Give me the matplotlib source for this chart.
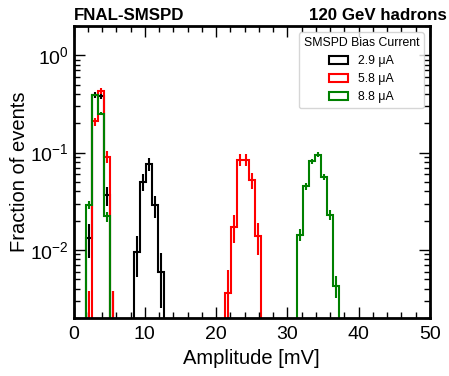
import matplotlib
matplotlib.use("Agg")
import matplotlib.pyplot as plt
from matplotlib.patches import Patch
import numpy as np

plt.rcParams['font.family'] = ['Liberation Sans', 'DejaVu Sans']
plt.rcParams['mathtext.fontset'] = 'custom'
plt.rcParams['mathtext.rm'] = 'Liberation Sans'
plt.rcParams['mathtext.it'] = 'Liberation Sans:italic'
plt.rcParams['mathtext.bf'] = 'Liberation Sans:bold'

# 59 bins between 0 and 50 mV
edges = np.linspace(0, 50, 60)

# non-empty bins (index) and fraction of events
black_bins = [2, 3, 4, 5, 6, 10, 11, 12, 13, 14]
black_frac = [0.0133, 0.395, 0.385, 0.0364, 0.0019, 0.0096, 0.050, 0.0767, 0.0288, 0.0059]
black_n = 526

red_bins = [2, 3, 4, 5, 6, 25, 26, 27, 28, 29, 30]
red_frac = [0.0019, 0.209, 0.432, 0.0904, 0.0019, 0.0036, 0.0174, 0.0848, 0.0848, 0.0522, 0.014]
red_n = 530

green_bins = [2, 3, 4, 5, 37, 38, 39, 40, 41, 42, 43]
green_frac = [0.029, 0.391, 0.250, 0.0221, 0.0143, 0.0453, 0.0815, 0.0955, 0.056, 0.0229, 0.0043]
green_n = 3500

labels = ['2.9 μA', '5.8 μA', '8.8 μA']
colors = ['black', 'red', 'green']

fig = plt.figure(figsize=(4.49, 3.76), dpi=100)
ax = fig.add_axes([73.5 / 449, 1 - 318 / 376, (430 - 73.5) / 449, (318 - 26) / 376])

centers = 0.5 * (edges[1:] + edges[:-1])
series = [(black_bins, black_frac, black_n), (red_bins, red_frac, red_n), (green_bins, green_frac, green_n)]
for (bins, frac, n), col in zip(series, colors):
    vals = np.zeros(len(edges) - 1)
    vals[bins] = frac
    err = np.sqrt(vals * n) / n
    shown = np.where(vals > 0, vals, 1e-9)
    ax.stairs(shown, edges, color=col, lw=1.5, baseline=1e-9)
    m = vals > 0
    ax.errorbar(centers[m], vals[m], yerr=err[m], fmt='none', ecolor=col, elinewidth=1.5)

ax.set_yscale('log')
ax.set_xlim(0, 50)
ax.set_ylim(2e-3, 2)
ax.set_xticks([0, 10, 20, 30, 40, 50])
ax.set_xticks(np.arange(0, 51, 2), minor=True)
ax.tick_params(which='both', direction='in', top=True, right=True, labelsize=14)
ax.tick_params(which='major', length=8, width=1)
ax.tick_params(which='minor', length=4, width=1)
ax.tick_params(axis='x', pad=6)
for s in ax.spines.values():
    s.set_linewidth(2)

ax.set_xlabel('Amplitude [mV]', fontsize=14.5)
ax.set_ylabel('Fraction of events', fontsize=14.5, labelpad=1)

handles = [Patch(facecolor='none', edgecolor=c, lw=1.5) for c in colors]
ax.legend(handles, labels, title='SMSPD Bias Current', loc='upper right',
          fontsize=8.8, title_fontsize=8.8, handlelength=1.6)

fig.text(74 / 449, 1 - 20 / 376, 'FNAL-SMSPD', fontsize=12.2, fontweight='bold', ha='left', va='baseline')
fig.text(447 / 449, 1 - 20 / 376, '120 GeV hadrons', fontsize=12.2, fontweight='bold', ha='right', va='baseline')

fig.savefig('out.png', dpi=100)
